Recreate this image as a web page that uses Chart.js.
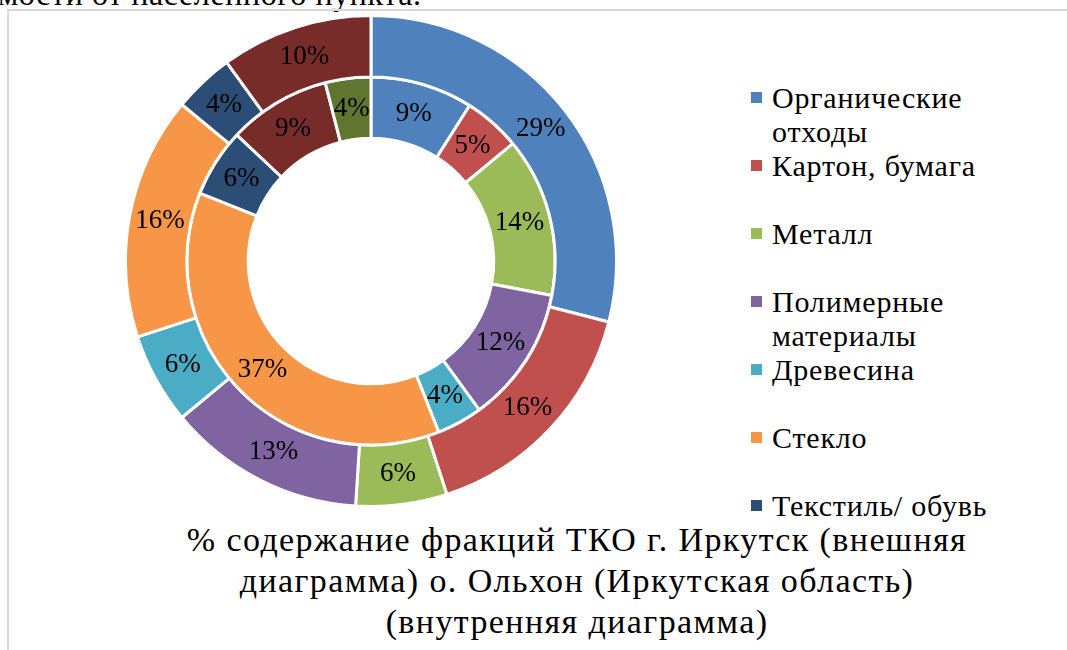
<!DOCTYPE html>
<html lang="ru">
<head>
<meta charset="utf-8">
<script src="https://cdn.jsdelivr.net/npm/chart.js@4.4.0/dist/chart.umd.min.js"></script>
<style>
  html, body { margin: 0; padding: 0; background: #fff; overflow: hidden; }
  body { width: 1067px; height: 650px; position: relative; font-family: "Liberation Serif", Tinos, "DejaVu Serif", "Times New Roman", Times, serif; color: #000; }
  #prev { position: absolute; left: -2px; top: -22px; font-size: 32px; line-height: 32px; letter-spacing: 0.6px; white-space: nowrap; }
  #frame { position: absolute; left: 7px; top: 9px; width: 1200px; height: 800px; border: 2px solid #d9d9d9; }
  #chart-box { position: absolute; left: 124px; top: 14px; width: 494px; height: 494px; }
  #legend { position: absolute; left: 751px; top: 81px; }
  .item { height: 68px; position: relative; }
  .item .sw { position: absolute; left: 0; top: 11px; width: 11px; height: 11px; }
  .item .tx { position: absolute; left: 21px; top: 0; width: 245px; font-size: 30px; line-height: 34px; letter-spacing: 0.8px; }
  #title { position: absolute; left: 177px; top: 519px; width: 800px; text-align: center; font-size: 34px; line-height: 41px; letter-spacing: 1.4px; white-space: nowrap; }
</style>
</head>
<body>
<div id="prev">мости от населенного пункта.</div>
<div id="frame"></div>
<div id="chart-box"><canvas id="waste-chart"></canvas></div>
<div id="legend"></div>
<div id="title">% содержание фракций ТКО г. Иркутск (внешняя<br>диаграмма) о. Ольхон (Иркутская область)<br>(внутренняя диаграмма)</div>
<script>
const categories = [
    "Органические отходы",
    "Картон, бумага",
    "Металл",
    "Полимерные материалы",
    "Древесина",
    "Стекло",
    "Текстиль/ обувь",
    "Прочее",
    "Иное",
];
// outer ring - Иркутск, inner ring - о. Ольхон
const irkutskValues = [29, 16, 6, 13, 6, 16, 4, 10, 0];
const olkhonValues = [9, 5, 14, 12, 4, 37, 6, 9, 4];
const colors = ["#4F81BD", "#C0504D", "#9BBB59", "#8064A2", "#4BACC6", "#F79646", "#2C4D75", "#772C2A", "#5F7530"];
const legendCount = 7;

// legend (only first items fit, as in the original)
const legendBox = document.getElementById("legend");
categories.slice(0, legendCount).forEach((name, i) => {
    const item = document.createElement("div");
    item.className = "item";
    item.innerHTML = '<span class="sw" style="background:' + colors[i] + '"></span><div class="tx">' + name + "</div>";
    legendBox.appendChild(item);
});

const percentLabels = {
    id: "percentLabels",
    afterDatasetsDraw(chart) {
        const ctx = chart.ctx;
        ctx.save();
        ctx.font = '27px "Liberation Serif", Tinos, "DejaVu Serif", serif';
        ctx.fillStyle = "#000";
        ctx.textAlign = "center";
        ctx.textBaseline = "middle";
        chart.data.datasets.forEach((ds, i) => {
            chart.getDatasetMeta(i).data.forEach((arc, j) => {
                const v = ds.data[j];
                if (!v) return;
                const p = arc.tooltipPosition();
                ctx.fillText(v + "%", p.x, p.y);
            });
        });
        ctx.restore();
    },
};

const wasteContext = document.getElementById("waste-chart");

const wasteData = {
    labels: categories,
    datasets: [
        {
            label: "г. Иркутск",
            data: irkutskValues,
            backgroundColor: colors,
            borderColor: "#fff",
            borderWidth: 3,
        },
        {
            label: "о. Ольхон",
            data: olkhonValues,
            backgroundColor: colors,
            borderColor: "#fff",
            borderWidth: 3,
        },
    ],
};

const wasteChart = new Chart(wasteContext, {
    type: "doughnut",
    data: wasteData,
    options: {
        responsive: true,
        maintainAspectRatio: false,
        animation: false,
        cutout: "50%",
        plugins: {
            legend: { display: false },
            tooltip: { enabled: false },
        },
    },
    plugins: [percentLabels],
});
</script>
</body>
</html>
